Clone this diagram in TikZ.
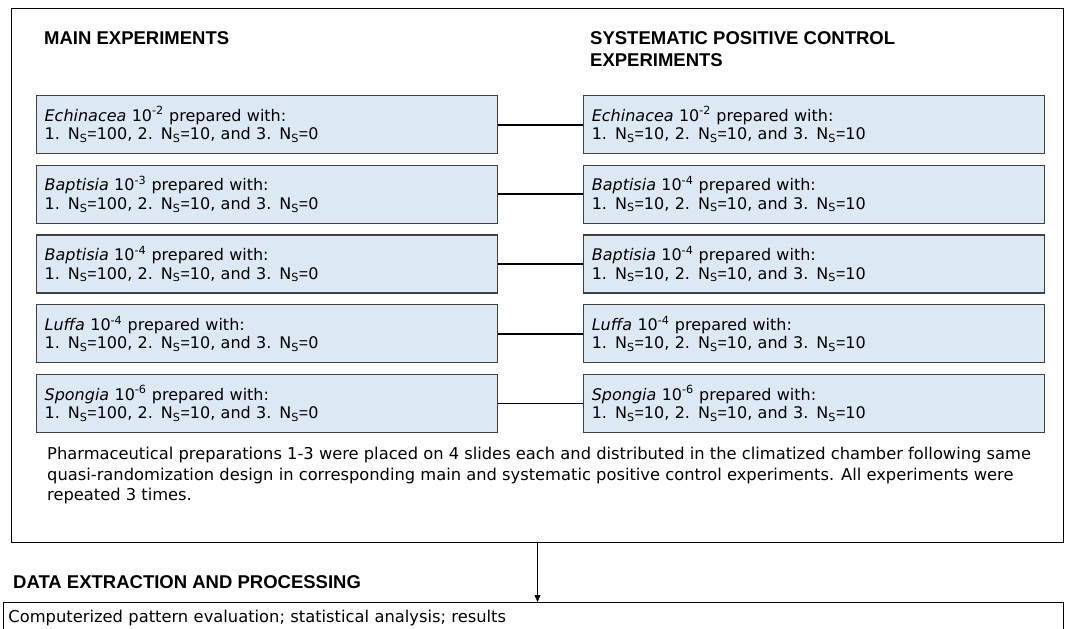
\documentclass[tikz,border=0pt]{standalone}
\usepackage{fontspec}
\setmainfont{DejaVu Sans}
\newfontfamily\headfont{Liberation Sans}
\usetikzlibrary{positioning,arrows.meta}
\definecolor{boxblue}{HTML}{DCE8F4}
\definecolor{edgegray}{HTML}{404040}
\newcommand{\Ns}[1]{N\textsubscript{S}{\headfont=}#1}

\begin{document}
\begin{tikzpicture}[
  x=1pt, y=-1pt,
  font=\fontsize{16}{18.5}\selectfont,
  prep/.style={draw=edgegray, line width=1.2pt, fill=boxblue, align=left,
               minimum width=461pt, minimum height=58pt, text width=445pt,
               inner xsep=8pt, inner ysep=0pt},
  head/.style={font=\headfont\bfseries\fontsize{18.5}{22}\selectfont,
               inner sep=0pt, align=left},
  link/.style={line width=1.8pt},
  arr/.style={-{Triangle[length=7pt, width=6pt]}, line width=0.9pt}
]
\useasboundingbox (0,0) rectangle (1068,629);
\clip (0,0) rectangle (1068,629);
% --- outer frame and headings -----------------------------------------
\node[draw, line width=1pt, minimum width=1052pt, minimum height=534pt,
      inner sep=0pt, anchor=north west] (frame) at (11,8) {};
\node[head, anchor=west] (mainhd) at (44,38) {MAIN EXPERIMENTS};
\node[head, anchor=north west] (ctrlhd) at (590,31)
  {SYSTEMATIC POSITIVE CONTROL\\EXPERIMENTS};
% --- main experiments (left column) -----------------------------------
\node[prep, anchor=north west] (m1) at (36,95)
  {\textit{Echinacea} 10\textsuperscript{-2} prepared with:\\ 1. \Ns{100}, 2. \Ns{10}, and 3. \Ns{0}};
\node[prep, below=10.5pt of m1] (m2)
  {\textit{Baptisia} 10\textsuperscript{-3} prepared with:\\ 1. \Ns{100}, 2. \Ns{10}, and 3. \Ns{0}};
\node[prep, below=10.5pt of m2] (m3)
  {\textit{Baptisia} 10\textsuperscript{-4} prepared with:\\ 1. \Ns{100}, 2. \Ns{10}, and 3. \Ns{0}};
\node[prep, below=10.5pt of m3] (m4)
  {\textit{Luffa} 10\textsuperscript{-4} prepared with:\\ 1. \Ns{100}, 2. \Ns{10}, and 3. \Ns{0}};
\node[prep, below=10.5pt of m4] (m5)
  {\textit{Spongia} 10\textsuperscript{-6} prepared with:\\ 1. \Ns{100}, 2. \Ns{10}, and 3. \Ns{0}};
% --- positive controls (right column) ---------------------------------
\node[prep, right=85pt of m1] (c1)
  {\textit{Echinacea} 10\textsuperscript{-2} prepared with:\\ 1. \Ns{10}, 2. \Ns{10}, and 3. \Ns{10}};
\node[prep, right=85pt of m2] (c2)
  {\textit{Baptisia} 10\textsuperscript{-4} prepared with:\\ 1. \Ns{10}, 2. \Ns{10}, and 3. \Ns{10}};
\node[prep, right=85pt of m3] (c3)
  {\textit{Baptisia} 10\textsuperscript{-4} prepared with:\\ 1. \Ns{10}, 2. \Ns{10}, and 3. \Ns{10}};
\node[prep, right=85pt of m4] (c4)
  {\textit{Luffa} 10\textsuperscript{-4} prepared with:\\ 1. \Ns{10}, 2. \Ns{10}, and 3. \Ns{10}};
\node[prep, right=85pt of m5] (c5)
  {\textit{Spongia} 10\textsuperscript{-6} prepared with:\\ 1. \Ns{10}, 2. \Ns{10}, and 3. \Ns{10}};
% --- links ------------------------------------------------------------
\draw[link] (m1) -- (c1);
\draw[link] (m2) -- (c2);
\draw[link] (m3) -- (c3);
\draw[link] (m4) -- (c4);
\draw[link] (m5) -- (c5);
% --- note -------------------------------------------------------------
\node[anchor=north west, align=left, inner sep=0pt,
      font=\fontsize{16.3}{20.5}\selectfont] (note) at (47,447)
  {Pharmaceutical preparations 1-3 were placed on 4 slides each and distributed in the climatized chamber following same\\
   quasi-randomization design in corresponding main and systematic positive control experiments. All experiments were\\
   repeated 3 times.};
% --- data processing --------------------------------------------------
\node[head, anchor=west] (datahd) at (13,582) {DATA EXTRACTION AND PROCESSING};
\node[draw, line width=1pt, anchor=north west, minimum width=1060pt,
      text width=1050pt, align=left, inner xsep=5pt, inner ysep=8pt,
      font=\fontsize{16.3}{20}\selectfont] (proc) at (3,602)
  {Computerized pattern evaluation; statistical analysis; results};
\draw[arr] (frame.south) -- (frame.south |- proc.north);
\end{tikzpicture}
\end{document}
